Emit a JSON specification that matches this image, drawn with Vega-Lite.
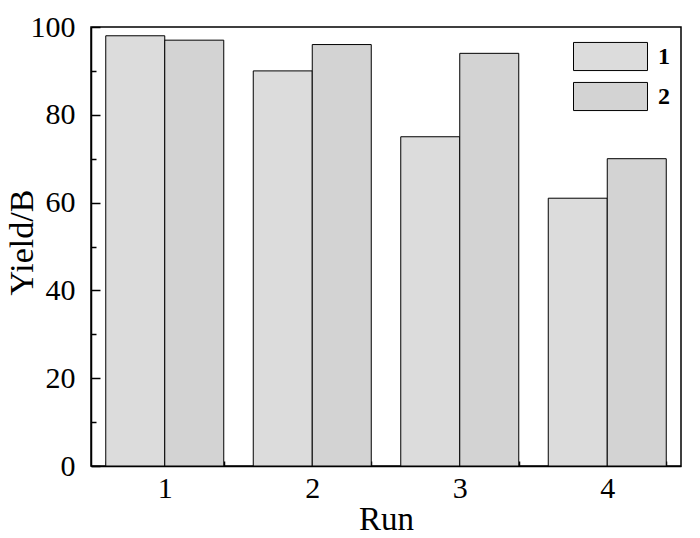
{
  "$schema": "https://vega.github.io/schema/vega-lite/v6.json",
  "autosize": "none",
  "width": 590,
  "height": 439,
  "padding": {"left": 91, "top": 27, "right": 19, "bottom": 72},
  "background": "white",
  "config": {
    "font": "Liberation Serif",
    "view": {"stroke": "black", "strokeWidth": 1.5},
    "axis": {"domainColor": "black", "domainWidth": 1.5, "tickColor": "black", "tickWidth": 1.5, "labelColor": "black", "titleColor": "black", "grid": false}
  },
  "data": {
    "values": [
      {"Run": "1", "Series": "1", "Yield": 98},
      {"Run": "1", "Series": "2", "Yield": 97},
      {"Run": "2", "Series": "1", "Yield": 90},
      {"Run": "2", "Series": "2", "Yield": 96},
      {"Run": "3", "Series": "1", "Yield": 75},
      {"Run": "3", "Series": "2", "Yield": 94},
      {"Run": "4", "Series": "1", "Yield": 61},
      {"Run": "4", "Series": "2", "Yield": 70}
    ]
  },
  "mark": {"type": "bar", "stroke": "black", "strokeWidth": 1},
  "encoding": {
    "x": {
      "field": "Run", "type": "nominal",
      "scale": {"paddingInner": 0.2, "paddingOuter": 0.1},
      "axis": {"title": "Run", "labelAngle": 0, "labelFontSize": 30, "titleFontSize": 33, "titleFontWeight": "normal", "labelPadding": 12, "titlePadding": 0, "tickBand": "extent", "tickSize": -5, "domain": true}
    },
    "xOffset": {"field": "Series", "type": "nominal"},
    "y": {
      "field": "Yield", "type": "quantitative",
      "scale": {"domain": [0, 100], "nice": false},
      "axis": {
        "title": "Yield/B", "titleFontSize": 34, "titleFontWeight": "normal",
        "titleX": -52, "titleY": 215, "titleAngle": -90, "titleAlign": "center", "titleBaseline": "bottom",
        "labelFontSize": 30, "labelPadding": 25,
        "values": [0, 10, 20, 30, 40, 50, 60, 70, 80, 90, 100],
        "labelExpr": "datum.value % 20 === 0 ? datum.label : ''",
        "tickSize": {"condition": {"test": "datum.value % 20 === 0", "value": -9}, "value": -5}
      }
    },
    "fill": {
      "field": "Series", "type": "nominal",
      "scale": {"domain": ["1", "2"], "range": ["#dcdcdc", "#d3d3d3"]},
      "legend": {
        "title": null, "orient": "none", "legendX": 504, "legendY": 14, "padding": 0,
        "symbolType": "M-2.5,-0.95H2.5V0.95H-2.5Z", "symbolSize": 876,
        "symbolStrokeColor": "black", "symbolStrokeWidth": 1,
        "labelFontSize": 24, "labelFontWeight": "bold", "labelOffset": 32,
        "rowPadding": 7, "labelColor": "black"
      }
    }
  }
}
